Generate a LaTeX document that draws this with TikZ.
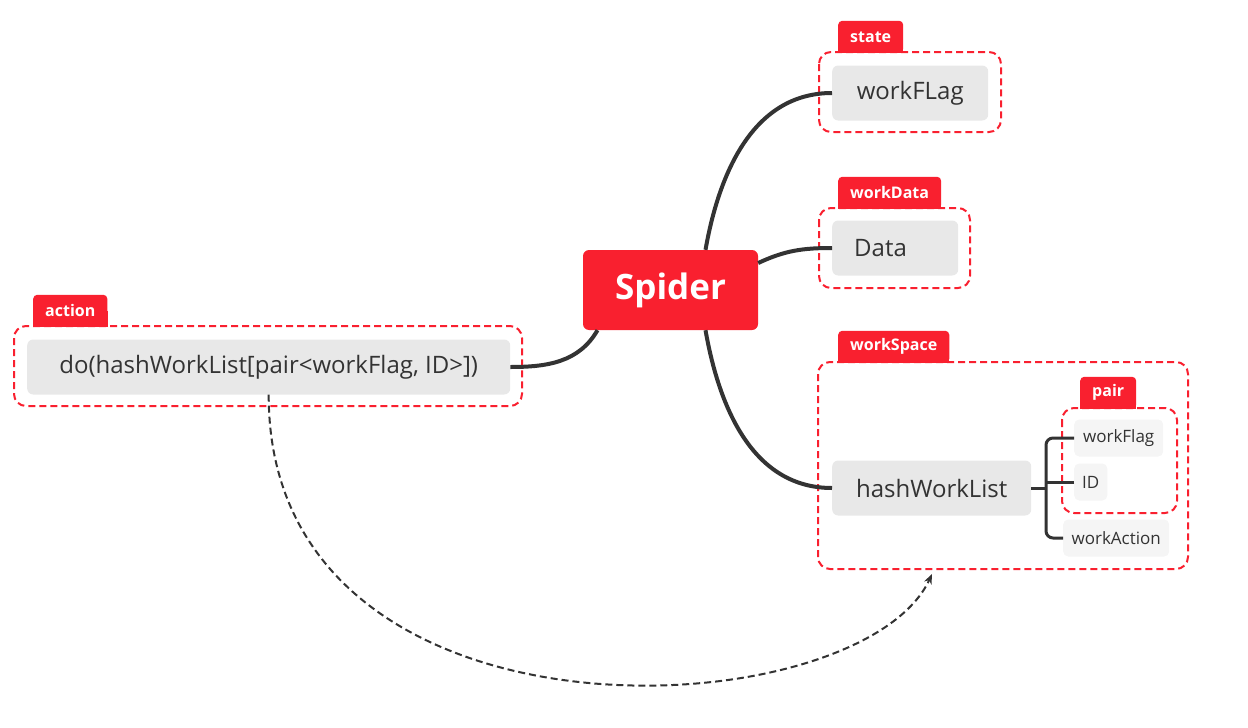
\documentclass[tikz,border=0pt]{standalone}
\usepackage{fontspec}
\setmainfont{Open Sans}
\usepackage{xcolor}
\usepackage{tikz}
\usetikzlibrary{arrows.meta,backgrounds}

\definecolor{spred}{HTML}{F9202F}
\definecolor{topicgray}{HTML}{E8E8E8}
\definecolor{subgray}{HTML}{F5F5F5}
\definecolor{ink}{HTML}{333333}

\begin{document}
\begin{tikzpicture}[x=1pt,y=1pt,
root/.style={fill=spred,text=white,rounded corners=6pt,minimum width=175pt,minimum height=80pt,font=\fontsize{35}{40}\selectfont\bfseries},
topic/.style={fill=topicgray,text=ink,rounded corners=6pt,inner xsep=22pt,minimum height=55pt,anchor=west,font=\fontsize{24}{28}\selectfont},
subtopic/.style={fill=subgray,text=ink,rounded corners=5pt,inner xsep=8pt,minimum height=37pt,anchor=west,font=\fontsize{17}{20}\selectfont},
labeltag/.style={fill=spred,text=white,rounded corners=4pt,inner xsep=12pt,minimum height=32pt,anchor=south west,font=\fontsize{16}{19}\selectfont\bfseries},
frame/.style={draw=spred,line width=2pt,dash pattern=on 7pt off 4pt,rounded corners=12pt},
link/.style={draw=ink,line width=4pt},
branch/.style={draw=ink,line width=3pt},
flow/.style={draw=ink,line width=2pt,dash pattern=on 7pt off 4pt,-{Stealth[length=10pt,width=8pt]}}
]
\useasboundingbox (0,0) rectangle (1248,-728);

% The frames
\draw[frame] (819,-52) rectangle (1001,-132);
\draw[frame] (819,-208) rectangle (970,-288);
\draw[frame] (818,-362) rectangle (1188,-569);
\draw[frame] (1062,-408) rectangle (1177,-513);
\draw[frame] (14,-326) rectangle (522,-406);

% The tags
\node[labeltag] (st) at (838,-53) {state};
\node[labeltag] (wd) at (838,-209) {workData};
\node[labeltag] (ws) at (838,-363) {workSpace};
\node[labeltag] (pr) at (1080,-409) {pair};
\node[labeltag] (ac) at (33,-327) {action};
\begin{scope}[on background layer]
\foreach \t in {st,wd,ws,pr,ac}
  \fill[spred] (\t.west) rectangle (\t.south east);
\end{scope}

% The topics
\node[root] (spider) at (670.5,-290) {Spider};
\node[topic,minimum width=156pt] (flag) at (832,-93) {workFLag};
\node[topic,text width=82pt,align=left] (data) at (832,-248) {Data};
\node[topic,minimum width=199pt] (hash) at (832,-488) {hashWorkList};
\node[topic,minimum width=483pt] (do) at (27,-367) {do(hashWorkList[pair<workFlag, ID>])};

\node[subtopic,minimum width=89pt] (sflag) at (1074,-438) {workFlag};
\node[subtopic,minimum width=32pt] (sid) at (1074,-482) {ID};
\node[subtopic,minimum width=106pt] (sact) at (1063,-538) {workAction};

% The links
\draw[link] ([xshift=35pt]spider.north) to[out=80,in=180] (flag.west);
\draw[link] ([yshift=27pt]spider.east) to[out=25,in=180] (data.west);
\draw[link] ([xshift=35pt]spider.south) to[out=-80,in=180] (hash.west);
\draw[link] ([xshift=-73pt]spider.south) to[out=-120,in=0] (do.east);

\coordinate (bus) at (1046,-488);
\draw[branch] (hash.east) -- (bus);
\draw[branch,rounded corners=7pt] (sflag.west) -| (bus) |- (sact.west);
\draw[branch] (sid.west) -- (sid.west -| bus);

% The flow
\coordinate (spacein) at (932,-574);
\draw[flow] (do.south) .. controls (268,-762) and (860,-730) .. (spacein);
\end{tikzpicture}
\end{document}
